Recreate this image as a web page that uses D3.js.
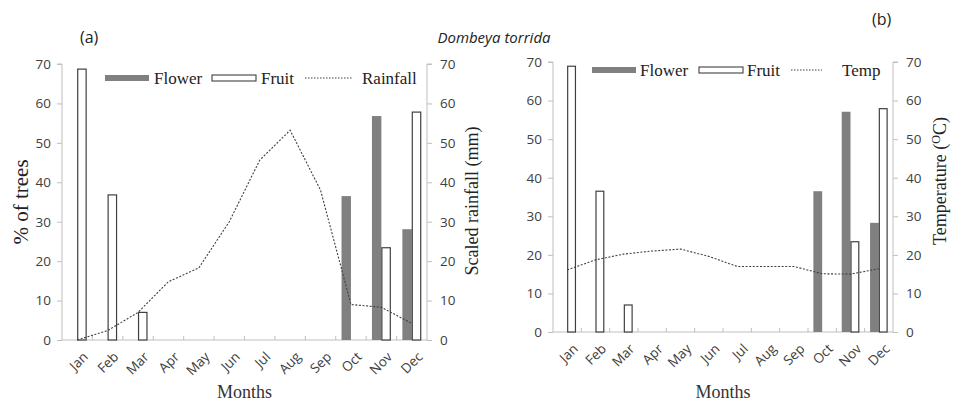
<!DOCTYPE html>
<html>
<head>
<meta charset="utf-8">
<script src="https://cdn.jsdelivr.net/npm/d3@7"></script>
<style>
  html, body { margin: 0; padding: 0; background: #fff; }
  svg { display: block; }
</style>
</head>
<body>
<svg id="chart" width="955" height="405"></svg>
<script>
// Monthly phenology of Dombeya torrida with rainfall and temperature
const months = ["Jan","Feb","Mar","Apr","May","Jun","Jul","Aug","Sep","Oct","Nov","Dec"];
const flowerA = [0,0,0,0,0,0,0,0,0,36.5,56.8,28.1];
const fruitA  = [68.7,36.8,7,0,0,0,0,0,0,0,23.4,57.8];
const rainfall = [0,2.4,7,14.8,18.3,30,45.6,53.2,38,9,8.3,4.2];
const flowerB = [0,0,0,0,0,0,0,0,0,36.5,57.1,28.3];
const fruitB  = [68.9,36.5,7,0,0,0,0,0,0,0,23.4,57.9];
const temp    = [16.1,18.7,20.2,21,21.5,19.6,17,17,17,15.1,15,16.4];
const yTicks = [0,10,20,30,40,50,60,70];

const svg = d3.select("#chart");
const axisGray = "#bfbfbf";
const barStroke = "#404040";
const flowerFill = "#808080";
const tickFont = "'Open Sans', sans-serif";
const serif = "'Liberation Serif', 'Times New Roman', serif";

function panel(cfg) {
  const g = svg.append("g");
  const x = d3.scaleBand().domain(months).range([cfg.x0, cfg.x1]).padding(0);
  const y = d3.scaleLinear().domain([0, 70]).range([cfg.y0, cfg.y1]);
  const bw = x.bandwidth();
  const w = bw * 0.31;
  const cx = m => x(m) + bw / 2;

  // left axis
  const la = g.append("g").attr("transform", `translate(${cfg.x0},0)`)
    .call(d3.axisLeft(y).tickValues(yTicks).tickSize(5).tickPadding(6));
  // right axis
  const ra = g.append("g").attr("transform", `translate(${cfg.x1},0)`)
    .call(d3.axisRight(y).tickValues(yTicks).tickSize(5).tickPadding(8));
  // bottom axis, tick marks between categories
  const xa = g.append("g").attr("transform", `translate(0,${cfg.y0})`)
    .call(d3.axisBottom(x).tickSize(0).tickPadding(0).tickFormat(""));
  xa.selectAll(".sep").data(months.slice(1)).join("line")
    .attr("x1", m => x(m)).attr("x2", m => x(m))
    .attr("y1", 0).attr("y2", -4).attr("stroke", axisGray);
  [la, ra, xa].forEach(a => {
    a.select(".domain").attr("stroke", axisGray);
    a.selectAll(".tick line").attr("stroke", axisGray);
    a.selectAll(".tick text").attr("fill", "#404040")
      .style("font-family", tickFont).style("font-size", "13.5px");
  });
  la.select(".domain").attr("d", `M-5,${cfg.y1}H0V${cfg.y0}`);
  ra.select(".domain").attr("d", `M5,${cfg.y1}H0V${cfg.y0}`);
  xa.select(".domain").attr("d", `M${cfg.x0},0H${cfg.x1}`);

  // month labels
  g.selectAll(".mlab").data(months).join("text")
    .attr("transform", m => `translate(${cx(m) + 5},${cfg.y0 + 11}) rotate(-45)`)
    .attr("text-anchor", "end").attr("dy", "0.7em")
    .attr("fill", "#404040").style("font-family", tickFont).style("font-size", "13.5px")
    .text(m => m);

  // bars
  g.selectAll(".flower").data(months.map((m, i) => ({m, v: cfg.flower[i]})).filter(d => d.v > 0))
    .join("rect")
    .attr("x", d => cx(d.m) - w).attr("width", w)
    .attr("y", d => y(d.v)).attr("height", d => y(0) - y(d.v))
    .attr("fill", flowerFill);
  g.selectAll(".fruit").data(months.map((m, i) => ({m, v: cfg.fruit[i]})).filter(d => d.v > 0))
    .join("rect")
    .attr("x", d => cx(d.m) + 0.5).attr("width", w - 1)
    .attr("y", d => y(d.v)).attr("height", d => y(0) - y(d.v))
    .attr("fill", "#fff").attr("stroke", barStroke).attr("stroke-width", 1.2);

  // climate line
  g.append("path")
    .datum(cfg.line)
    .attr("fill", "none").attr("stroke", "#404040").attr("stroke-width", 1.1)
    .attr("stroke-dasharray", "2,1.6")
    .attr("d", d3.line().x((d, i) => cx(months[i])).y(d => y(d)));

  // axis titles
  g.append("text").attr("x", (cfg.x0 + cfg.x1) / 2).attr("y", 398)
    .attr("text-anchor", "middle").style("font-family", serif).style("font-size", "18px")
    .attr("fill", "#333").text("Months");

  // legend
  const L = cfg.legend;
  g.append("rect").attr("x", L.x[0]).attr("y", L.y - 3).attr("width", 44).attr("height", 6)
    .attr("fill", flowerFill);
  g.append("rect").attr("x", L.x[2]).attr("y", L.y - 3).attr("width", 44).attr("height", 6)
    .attr("fill", "#fff").attr("stroke", barStroke).attr("stroke-width", 1.1);
  g.append("line").attr("x1", L.x[4]).attr("x2", L.x[4] + L.lineLen).attr("y1", L.y).attr("y2", L.y)
    .attr("stroke", "#404040").attr("stroke-width", 1).attr("stroke-dasharray", "1.5,1.5");
  [["Flower", L.x[1]], ["Fruit", L.x[3]], [cfg.lineName, L.x[5]]].forEach(([t, xx]) => {
    g.append("text").attr("x", xx).attr("y", L.y + 6)
      .style("font-family", serif).style("font-size", "17px").attr("fill", "#222").text(t);
  });
  return g;
}

const ga = panel({
  x0: 62, x1: 427, y0: 340, y1: 64,
  flower: flowerA, fruit: fruitA, line: rainfall, lineName: "Rainfall",
  legend: { x: [105, 154, 212, 261, 305, 362], y: 78, lineLen: 47 }
});
const gb = panel({
  x0: 553, x1: 893, y0: 332, y1: 62,
  flower: flowerB, fruit: fruitB, line: temp, lineName: "Temp",
  legend: { x: [592, 640, 699, 747, 791, 842], y: 70, lineLen: 31 }
});

// y-axis titles
svg.append("text").attr("transform", "translate(28,202) rotate(-90)")
  .attr("text-anchor", "middle").style("font-family", serif).style("font-size", "21px")
  .attr("fill", "#222").text("% of trees");
svg.append("text").attr("transform", "translate(478,201) rotate(-90)")
  .attr("text-anchor", "middle").style("font-family", serif).style("font-size", "18px")
  .attr("fill", "#222").text("Scaled rainfall (mm)");
const tt = svg.append("text").attr("transform", "translate(946,181) rotate(-90)")
  .attr("text-anchor", "middle").style("font-family", serif).style("font-size", "18px")
  .attr("fill", "#222");
tt.append("tspan").text("Temperature (");
tt.append("tspan").attr("dy", "-6").style("font-size", "12px").text("O");
tt.append("tspan").attr("dy", "6").text("C)");

// panel tags and species title
svg.append("text").attr("x", 80).attr("y", 43).style("font-family", tickFont)
  .style("font-size", "16px").attr("fill", "#222").text("(a)");
svg.append("text").attr("x", 872).attr("y", 25).style("font-family", tickFont)
  .style("font-size", "16px").attr("fill", "#222").text("(b)");
svg.append("text").attr("x", 494).attr("y", 43).attr("text-anchor", "middle")
  .style("font-family", tickFont).style("font-style", "italic").style("font-size", "15px")
  .attr("fill", "#222").text("Dombeya torrida");
</script>
</body>
</html>
